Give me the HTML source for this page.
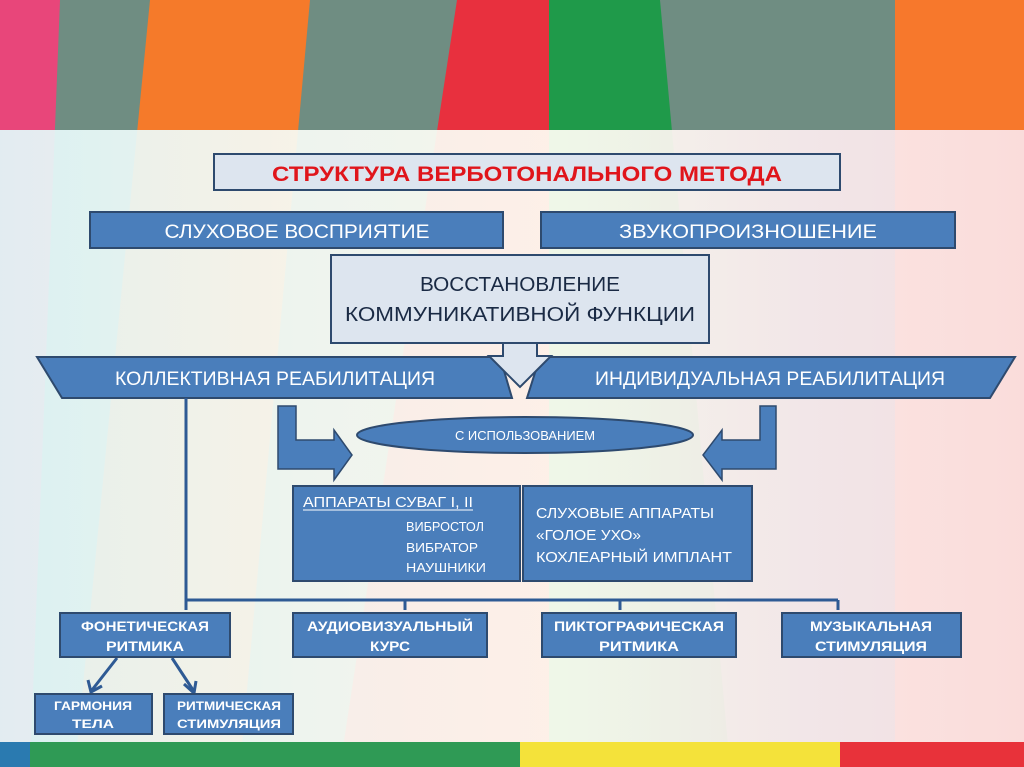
<!DOCTYPE html>
<html><head><meta charset="utf-8"><style>
html,body{margin:0;padding:0;width:1024px;height:767px;overflow:hidden;}
svg{display:block}
text{font-family:"Liberation Sans Narrow","Liberation Sans",sans-serif;}
</style></head><body>
<svg width="1024" height="767" viewBox="0 0 1024 767" xmlns="http://www.w3.org/2000/svg">
<defs>
<linearGradient id="wash" x1="0" y1="0" x2="1" y2="0">
<stop offset="0" stop-color="#e2f8fa"/><stop offset="0.3" stop-color="#f8fcf6"/><stop offset="0.55" stop-color="#fffef4"/><stop offset="0.8" stop-color="#fcecef"/><stop offset="1" stop-color="#fae4e8"/>
</linearGradient>
</defs>
<rect x="0" y="0" width="1024" height="767" fill="#6f8d82"/>
<polygon points="0,0 60,0 30,767 0,767" fill="#e8467a"/>
<polygon points="150,0 310,0 240,767 75,767" fill="#f57a2a"/>
<polygon points="457,0 549,0 549,767 340,767" fill="#e8303e"/>
<polygon points="549,0 660,0 730,767 549,767" fill="#1f9a4a"/>
<polygon points="895,0 1024,0 1024,767 895,767" fill="#f7782c"/>
<rect x="0" y="130" width="1024" height="612" fill="url(#wash)" opacity="0.93"/>
<rect x="0" y="742" width="30" height="25" fill="#2a7ab0"/>
<rect x="30" y="742" width="490" height="25" fill="#2f9a55"/>
<rect x="520" y="742" width="320" height="25" fill="#f4e23a"/>
<rect x="840" y="742" width="184" height="25" fill="#e8323a"/>

<rect x="214" y="154" width="626" height="36" fill="#dde5ef" stroke="#2e4a6e" stroke-width="2"/>
<text x="527" y="181" text-anchor="middle" font-size="21" font-weight="bold" fill="#e0151b" textLength="510" lengthAdjust="spacingAndGlyphs">СТРУКТУРА ВЕРБОТОНАЛЬНОГО МЕТОДА</text>

<rect x="90" y="212" width="413" height="36" fill="#4a7ebb" stroke="#2e4a6e" stroke-width="2"/>
<text x="297" y="238" text-anchor="middle" font-size="19" fill="#fff" textLength="265" lengthAdjust="spacingAndGlyphs">СЛУХОВОЕ ВОСПРИЯТИЕ</text>
<rect x="541" y="212" width="414" height="36" fill="#4a7ebb" stroke="#2e4a6e" stroke-width="2"/>
<text x="748" y="238" text-anchor="middle" font-size="19" fill="#fff" textLength="258" lengthAdjust="spacingAndGlyphs">ЗВУКОПРОИЗНОШЕНИЕ</text>

<rect x="331" y="255" width="378" height="88" fill="#dde5ef" stroke="#2e4a6e" stroke-width="2"/>
<text x="520" y="291" text-anchor="middle" font-size="20" fill="#1a2a44" textLength="200" lengthAdjust="spacingAndGlyphs">ВОССТАНОВЛЕНИЕ</text>
<text x="520" y="321" text-anchor="middle" font-size="20" fill="#1a2a44" textLength="350" lengthAdjust="spacingAndGlyphs">КОММУНИКАТИВНОЙ ФУНКЦИИ</text>

<polygon points="37,357 500,357 512,398 62,398" fill="#4a7ebb" stroke="#2e4a6e" stroke-width="2"/>
<polygon points="540,357 1015,357 990,398 527,398" fill="#4a7ebb" stroke="#2e4a6e" stroke-width="2"/>
<text x="275" y="385" text-anchor="middle" font-size="19" fill="#fff" textLength="320" lengthAdjust="spacingAndGlyphs">КОЛЛЕКТИВНАЯ РЕАБИЛИТАЦИЯ</text>
<text x="770" y="385" text-anchor="middle" font-size="19" fill="#fff" textLength="350" lengthAdjust="spacingAndGlyphs">ИНДИВИДУАЛЬНАЯ РЕАБИЛИТАЦИЯ</text>
<polygon points="503,343 537,343 537,356 551,356 520,387 489,356 503,356" fill="#dde5ef" stroke="#2e4a6e" stroke-width="2"/>

<polygon points="278,406 296,406 296,440 334,440 334,430 352,455 334,480 334,469 278,469" fill="#4a7ebb" stroke="#2e4a6e" stroke-width="1.5"/>
<polygon points="776,406 760,406 760,440 722,440 722,430 703,455 722,480 722,469 776,469" fill="#4a7ebb" stroke="#2e4a6e" stroke-width="1.5"/>

<ellipse cx="525" cy="435" rx="168" ry="18" fill="#4a7ebb" stroke="#2e4a6e" stroke-width="2"/>
<text x="525" y="440" text-anchor="middle" font-size="13" fill="#fff" textLength="140" lengthAdjust="spacingAndGlyphs">С ИСПОЛЬЗОВАНИЕМ</text>

<rect x="293" y="486" width="227" height="95" fill="#4a7ebb" stroke="#2e4a6e" stroke-width="2"/>
<text x="303" y="507" font-size="15" fill="#fff" textLength="170" lengthAdjust="spacingAndGlyphs">АППАРАТЫ  СУВАГ I, II</text>
<line x1="303" y1="510" x2="473" y2="510" stroke="#fff" stroke-width="1"/>
<text x="406" y="531" font-size="13" fill="#fff" textLength="78" lengthAdjust="spacingAndGlyphs">ВИБРОСТОЛ</text>
<text x="406" y="552" font-size="13" fill="#fff" textLength="72" lengthAdjust="spacingAndGlyphs">ВИБРАТОР</text>
<text x="406" y="572" font-size="13" fill="#fff" textLength="80" lengthAdjust="spacingAndGlyphs">НАУШНИКИ</text>
<rect x="523" y="486" width="229" height="95" fill="#4a7ebb" stroke="#2e4a6e" stroke-width="2"/>
<text x="536" y="518" font-size="15" fill="#fff" textLength="178" lengthAdjust="spacingAndGlyphs">СЛУХОВЫЕ АППАРАТЫ</text>
<text x="536" y="540" font-size="15" fill="#fff" textLength="105" lengthAdjust="spacingAndGlyphs">«ГОЛОЕ УХО»</text>
<text x="536" y="562" font-size="15" fill="#fff" textLength="196" lengthAdjust="spacingAndGlyphs">КОХЛЕАРНЫЙ ИМПЛАНТ</text>

<g stroke="#2e5a94" stroke-width="3" fill="none">
<line x1="186" y1="398" x2="186" y2="610"/>
<line x1="186" y1="600" x2="838" y2="600"/>
<line x1="405" y1="600" x2="405" y2="610"/>
<line x1="620" y1="600" x2="620" y2="610"/>
<line x1="838" y1="600" x2="838" y2="610"/>
<line x1="117" y1="658" x2="92" y2="690"/>
<line x1="172" y1="658" x2="193" y2="690"/>
<polyline points="88,680 91,692 102,686"/>
<polyline points="184,684 194,693 196,681"/>
</g>

<g font-weight="bold" font-size="13.5" fill="#fff" text-anchor="middle">
<rect x="60" y="613" width="170" height="44" fill="#4a7ebb" stroke="#2e4a6e" stroke-width="2"/>
<text x="145" y="631" textLength="128" lengthAdjust="spacingAndGlyphs">ФОНЕТИЧЕСКАЯ</text>
<text x="145" y="651" textLength="78" lengthAdjust="spacingAndGlyphs">РИТМИКА</text>
<rect x="293" y="613" width="194" height="44" fill="#4a7ebb" stroke="#2e4a6e" stroke-width="2"/>
<text x="390" y="631" textLength="166" lengthAdjust="spacingAndGlyphs">АУДИОВИЗУАЛЬНЫЙ</text>
<text x="390" y="651" textLength="40" lengthAdjust="spacingAndGlyphs">КУРС</text>
<rect x="542" y="613" width="194" height="44" fill="#4a7ebb" stroke="#2e4a6e" stroke-width="2"/>
<text x="639" y="631" textLength="170" lengthAdjust="spacingAndGlyphs">ПИКТОГРАФИЧЕСКАЯ</text>
<text x="639" y="651" textLength="80" lengthAdjust="spacingAndGlyphs">РИТМИКА</text>
<rect x="782" y="613" width="179" height="44" fill="#4a7ebb" stroke="#2e4a6e" stroke-width="2"/>
<text x="871" y="631" textLength="122" lengthAdjust="spacingAndGlyphs">МУЗЫКАЛЬНАЯ</text>
<text x="871" y="651" textLength="112" lengthAdjust="spacingAndGlyphs">СТИМУЛЯЦИЯ</text>
<rect x="35" y="694" width="117" height="40" fill="#4a7ebb" stroke="#2e4a6e" stroke-width="2"/>
<text x="93" y="710" font-size="12" textLength="78" lengthAdjust="spacingAndGlyphs">ГАРМОНИЯ</text>
<text x="93" y="728" font-size="12" textLength="42" lengthAdjust="spacingAndGlyphs">ТЕЛА</text>
<rect x="164" y="694" width="129" height="40" fill="#4a7ebb" stroke="#2e4a6e" stroke-width="2"/>
<text x="229" y="710" font-size="12" textLength="104" lengthAdjust="spacingAndGlyphs">РИТМИЧЕСКАЯ</text>
<text x="229" y="728" font-size="12" textLength="104" lengthAdjust="spacingAndGlyphs">СТИМУЛЯЦИЯ</text>
</g>
</svg>
</body></html>
